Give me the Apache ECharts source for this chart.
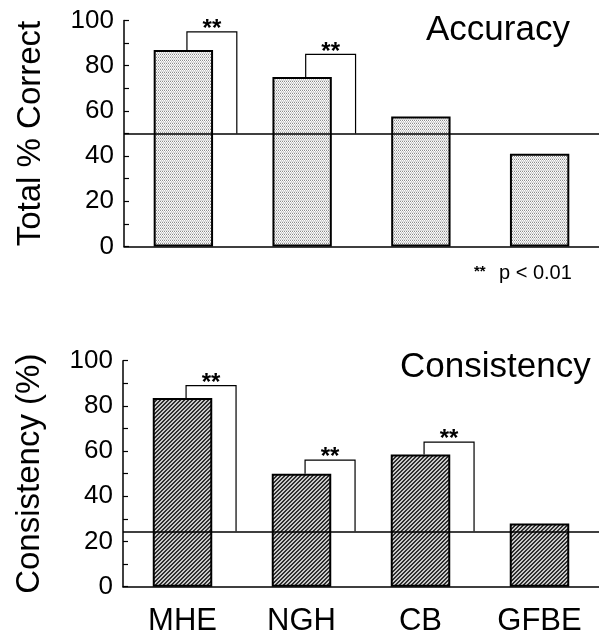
<!DOCTYPE html>
<html>
<head>
<meta charset="utf-8">
<script src="https://cdn.jsdelivr.net/npm/echarts@6/dist/echarts.min.js"></script>
<style>
html,body{margin:0;padding:0;background:#fff;}
#chart{width:599px;height:640px;}
</style>
</head>
<body>
<div id="chart"></div>
<script>
// ---- data ----
var categories = ['MHE', 'NGH', 'CB', 'GFBE'];
var accuracyValues = [87, 75, 57.5, 41];
var consistencyValues = [83.5, 50, 58.5, 28];
var accuracyChance = 50;
var consistencyChance = 24.5;
// [category index, bar value, bracket top]
var accuracyBrackets = [[0, 87, 95], [1, 75, 85]];
var consistencyBrackets = [[0, 83.5, 89], [1, 50, 56], [2, 58.5, 64]];
var yTickLabels = [0, 20, 40, 60, 80, 100];
var accuracyTitle = 'Accuracy';
var consistencyTitle = 'Consistency';
var accuracyAxisName = 'Total % Correct';
var consistencyAxisName = 'Consistency (%)';
var sigLabel = '**';
var noteStars = '**';
var noteText = 'p < 0.01';

// ---- patterns ----
function makeStipple() {
  var c = document.createElement('canvas');
  c.width = 4; c.height = 3;
  var ctx = c.getContext('2d');
  ctx.fillStyle = '#ffffff'; ctx.fillRect(0, 0, 4, 3);
  ctx.fillStyle = '#8a8a8a';
  ctx.fillRect(0, 0, 1, 1); ctx.fillRect(2, 0, 1, 1);
  ctx.fillStyle = '#c4c4c4';
  ctx.fillRect(1, 1, 1, 1); ctx.fillRect(3, 1, 1, 1);
  ctx.fillStyle = '#dddddd';
  ctx.fillRect(0, 2, 4, 1);
  return c;
}
function makeHatch() {
  var c = document.createElement('canvas');
  c.width = 4; c.height = 4;
  var ctx = c.getContext('2d');
  ctx.fillStyle = '#c8c8c8'; ctx.fillRect(0, 0, 4, 4);
  ctx.fillStyle = '#2e2e2e';
  for (var i = 0; i < 4; i++) {
    ctx.fillRect((3 - i + 4) % 4, i, 1, 1);
    ctx.fillRect((4 - i + 4) % 4, i, 1, 1);
  }
  return c;
}

var FONT = "'Liberation Sans', Arial, Helvetica, sans-serif";

function bracketRender(chance) {
  return function (params, api) {
    var idx = api.value(0);
    var p = api.coord([idx, api.value(1)]);
    var band = api.size([1, 0])[0];
    var x1 = p[0] + 0.03 * band;
    var x2 = p[0] + 0.45 * band;
    var yTop = api.coord([idx, api.value(2)])[1];
    var yBase = api.coord([idx, chance])[1];
    return {
      type: 'group',
      children: [
        {
          type: 'polyline',
          shape: { points: [[x1, p[1]], [x1, yTop], [x2, yTop], [x2, yBase]] },
          style: { stroke: '#000', lineWidth: 1.2, fill: null }
        },
        {
          type: 'text',
          style: {
            text: sigLabel, x: (x1 + x2) / 2, y: yTop - 2.5,
            font: 'bold 24px ' + FONT, fill: '#000',
            textAlign: 'center', textVerticalAlign: 'middle',
            align: 'center', verticalAlign: 'middle'
          }
        }
      ]
    };
  };
}

function yAxisCfg(gridIndex, name) {
  return {
    type: 'value', gridIndex: gridIndex, min: 0, max: 100, interval: 20,
    name: name, nameLocation: 'middle', nameRotate: 90, nameGap: 77,
    nameTextStyle: { fontSize: 33, color: '#000', fontFamily: FONT },
    axisLine: { show: true, lineStyle: { color: '#000', width: 1.5 } },
    axisTick: { show: true, inside: true, length: 5, lineStyle: { color: '#000', width: 1.2 } },
    minorTick: { show: true, splitNumber: 2, length: 5, lineStyle: { color: '#000', width: 1.2 } },
    axisLabel: { fontSize: 26, color: '#000', margin: 10, fontFamily: FONT,
      formatter: function (v) { return yTickLabels.indexOf(v) >= 0 ? String(v) : ''; } },
    splitLine: { show: false }
  };
}

function xAxisCfg(gridIndex, showLabels) {
  return {
    type: 'category', gridIndex: gridIndex, data: categories,
    axisLine: { show: true, lineStyle: { color: '#000', width: 1.5 } },
    axisTick: { show: false },
    axisLabel: { show: showLabels, fontSize: 31, color: '#000', margin: 19, fontFamily: FONT }
  };
}

function chanceLine(v) {
  return {
    silent: true, symbol: 'none',
    label: { show: false },
    lineStyle: { color: '#000', width: 1.5, type: 'solid' },
    emphasis: { disabled: true },
    data: [{ yAxis: v }]
  };
}

var chart = echarts.init(document.getElementById('chart'), null, { renderer: 'canvas' });
var option = {
  animation: false,
  backgroundColor: '#fff',
  grid: [
    { left: 124, top: 20.5, height: 226, right: -5 },
    { left: 123, top: 360.7, height: 226, right: -5 }
  ],
  xAxis: [xAxisCfg(0, false), xAxisCfg(1, true)],
  yAxis: [yAxisCfg(0, accuracyAxisName), yAxisCfg(1, consistencyAxisName)],
  graphic: [
    { type: 'text', left: 426, top: 13,
      style: { text: accuracyTitle, font: '35px ' + FONT, fill: '#000' } },
    { type: 'text', left: 400, top: 350,
      style: { text: consistencyTitle, font: '35px ' + FONT, fill: '#000' } },
    { type: 'text', left: 474, top: 264,
      style: { text: noteStars, font: 'bold 15px ' + FONT, fill: '#000' } },
    { type: 'text', left: 499, top: 263,
      style: { text: noteText, font: '20px ' + FONT, fill: '#000' } }
  ],
  series: [
    {
      type: 'bar', xAxisIndex: 0, yAxisIndex: 0, data: accuracyValues, barWidth: '50%',
      itemStyle: { color: { image: makeStipple(), repeat: 'repeat' }, borderColor: '#000', borderWidth: 2 },
      markLine: chanceLine(accuracyChance), z: 2
    },
    {
      type: 'custom', xAxisIndex: 0, yAxisIndex: 0, data: accuracyBrackets,
      renderItem: bracketRender(accuracyChance), z: 5, silent: true
    },
    {
      type: 'bar', xAxisIndex: 1, yAxisIndex: 1, data: consistencyValues, barWidth: '50%',
      itemStyle: { color: { image: makeHatch(), repeat: 'repeat' }, borderColor: '#000', borderWidth: 2 },
      markLine: chanceLine(consistencyChance), z: 2
    },
    {
      type: 'custom', xAxisIndex: 1, yAxisIndex: 1, data: consistencyBrackets,
      renderItem: bracketRender(consistencyChance), z: 5, silent: true
    }
  ]
};
chart.setOption(option);
</script>
</body>
</html>
